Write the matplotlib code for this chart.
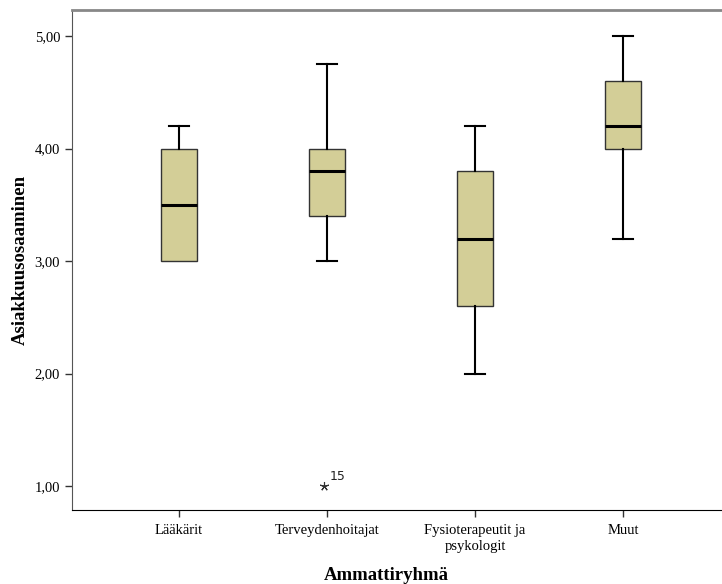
import matplotlib
matplotlib.use("Agg")
import matplotlib.pyplot as plt

# values
groups = ["Lääkärit", "Terveydenhoitajat", "Fysioterapeutit ja\npsykologit", "Muut"]
whislo = [3.0, 3.0, 2.0, 3.2]
q1 = [3.0, 3.4, 2.6, 4.0]
med = [3.5, 3.8, 3.2, 4.2]
q3 = [4.0, 4.0, 3.8, 4.6]
whishi = [4.2, 4.75, 4.2, 5.0]
outliers = [[], [1.0], [], []]
outlier_ids = [[], ["15"], [], []]

yticks = [1.0, 2.0, 3.0, 4.0, 5.0]
ytick_labels = ["1,00", "2,00", "3,00", "4,00", "5,00"]

serif = ["Liberation Serif", "DejaVu Serif"]

fig = plt.figure(figsize=(7.22, 5.84), dpi=100)
ax = fig.add_axes([72 / 722, 74 / 584, 650 / 722, 500 / 584])

stats = [dict(label=g, whislo=a, q1=b, med=c, q3=d, whishi=e, fliers=[])
         for g, a, b, c, d, e in zip(groups, whislo, q1, med, q3, whishi)]
pos = list(range(1, len(groups) + 1))
art = ax.bxp(stats, positions=pos, widths=0.243, patch_artist=True,
             showfliers=False,
             boxprops=dict(facecolor="#D3CE97", edgecolor="#333333", lw=1.0),
             medianprops=dict(color="black", lw=2.2),
             whiskerprops=dict(color="black", lw=1.5),
             capprops=dict(color="black", lw=1.5),
             capwidths=0.13)
# no cap drawn where the whisker has zero length
for i, (a, b) in enumerate(zip(whislo, q1)):
    if a == b:
        art["caps"][2 * i].set_visible(False)

for p, vals, ids in zip(pos, outliers, outlier_ids):
    for v, lab in zip(vals, ids):
        ax.plot(p - 0.02, v, marker=(5, 2, 0), ms=6.5, color="#333333",
                mew=0.8, ls="none")
        ax.annotate(lab, (p - 0.02, v), xytext=(4, 4), textcoords="offset points",
                    fontsize=9, family="DejaVu Sans", color="#222222")

ax.set_xlim(0.277, 4.669)
ax.set_ylim(0.787, 5.231)
ax.set_yticks(yticks)
ax.set_yticklabels(ytick_labels, family=serif, fontsize=10.5)
ax.set_xticks(pos)
ax.set_xticklabels(groups, family=serif, fontsize=10.5, linespacing=1.3)
ax.tick_params(axis="both", direction="out", length=5, width=1, color="#333333")
ax.tick_params(axis="x", pad=5)

ax.spines["top"].set_color("#888888")
ax.spines["top"].set_linewidth(2)
ax.spines["left"].set_color("#555555")
ax.spines["bottom"].set_color("black")
ax.spines["right"].set_visible(False)

ax.set_ylabel("Asiakkuusosaaminen", family=serif, fontsize=13.5,
              fontweight="bold")
ax.yaxis.set_label_coords(-0.067, 0.5)
ax.set_xlabel("Ammattiryhmä", family=serif, fontsize=13.5, fontweight="bold")
ax.xaxis.set_label_coords((386 - 72) / 650, -0.115)

fig.savefig("out.png", dpi=100)
